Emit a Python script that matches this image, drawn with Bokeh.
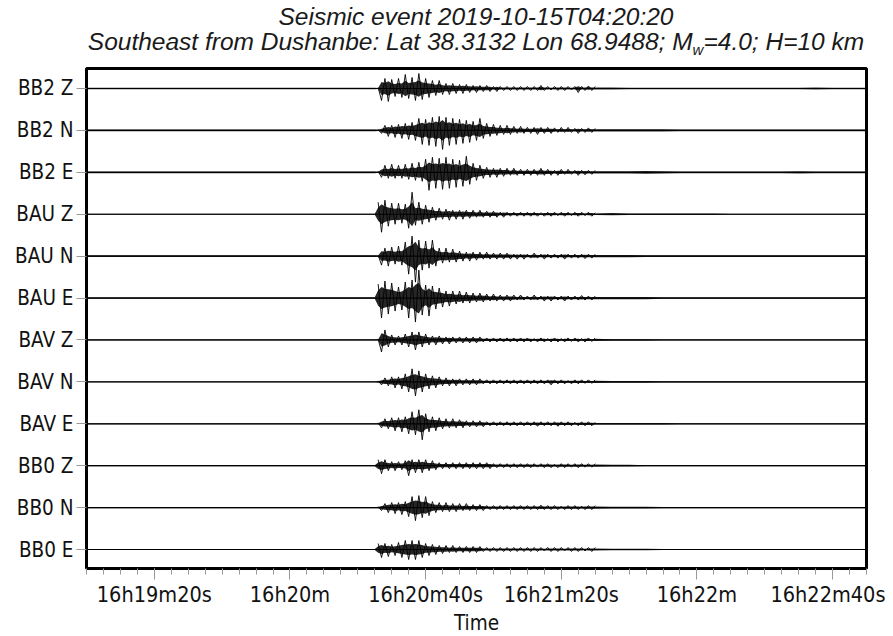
import numpy as np
from bokeh.plotting import figure
from bokeh.models import FixedTicker, Range1d, Div
from bokeh.layouts import column
from bokeh.embed import file_html
from bokeh.resources import INLINE

# ---------------- data ----------------
station_labels = ["BB2 Z", "BB2 N", "BB2 E", "BAU Z", "BAU N", "BAU E",
                  "BAV Z", "BAV N", "BAV E", "BB0 Z", "BB0 N", "BB0 E"]

title_line1 = "Seismic event 2019-10-15T04:20:20"
title_line2_a = "Southeast from Dushanbe: Lat 38.3132 Lon 68.9488; M"
title_line2_sub = "w"
title_line2_b = "=4.0; H=10 km"

# time axis: seconds after 16h19m00s
x_tick_secs = [20, 60, 100, 140, 180, 220]
x_tick_labels = ["16h19m20s", "16h20m", "16h20m40s", "16h21m20s", "16h22m", "16h22m40s"]
x_minor_secs = list(range(0, 231, 5))

t_pre = [0, 20, 40, 60, 85]           # pre-event noise knots
t_event = list(range(86, 151))        # main event knots (1 s)
t_coda = list(range(155, 231, 5))     # late coda knots (5 s)

# amplitudes (half-swing, in pixels of the original)
pre_amp = {
    "BB2 Z": [1.5, 1.5, 1.5, 1.5, 1.5], "BB2 N": [1.5, 1.5, 1.5, 1.5, 1.5],
    "BB2 E": [1.5, 1.5, 1.5, 1.5, 1.5], "BAU Z": [1, 1, 1, 1, 1],
    "BAU N": [1.5, 1.5, 1.5, 1.5, 1.5], "BAU E": [1.5, 1.5, 1.5, 1.5, 1.5],
    "BAV Z": [0.8, 0.8, 0.8, 0.8, 0.8], "BAV N": [0.5, 0.5, 0.5, 0.5, 0.5],
    "BAV E": [1, 1, 1, 1, 1], "BB0 Z": [1, 1, 1, 1, 1],
    "BB0 N": [1, 1, 1, 1, 1], "BB0 E": [1, 1, 1, 1, 1],
}

event_amp = {
    "BB2 Z": [1, 12, 10, 13, 9, 8, 10, 9, 14, 10, 11, 12, 15, 11, 10, 9, 8, 7, 8, 6,
              5, 6, 5, 5, 4, 5, 4, 4, 3, 4, 3, 3, 3, 3, 2, 3, 2, 2, 2, 2, 2, 2, 2, 2, 2,
              2, 2, 2, 3, 2, 2, 1.5, 2, 2, 2, 2, 2, 1.5, 2, 4, 2, 2, 2.5, 2, 2],
    "BB2 N": [1, 3, 5, 6, 5, 7, 6, 8, 7, 9, 8, 10, 12, 14, 11, 15, 13, 16, 14, 19,
              13, 15, 12, 14, 11, 13, 10, 12, 9, 10, 12, 8, 7, 6, 6, 5, 5, 4, 5, 4, 4, 3, 4, 3, 3,
              3, 3, 4, 3, 3, 3, 3, 2.5, 2, 3, 2, 3, 2, 2, 3, 2, 2, 2.5, 2, 2],
    "BB2 E": [1, 5, 7, 6, 8, 6, 7, 6, 8, 7, 9, 8, 10, 9, 13, 18, 15, 16, 14, 17,
              15, 16, 13, 15, 12, 14, 16, 12, 9, 8, 7, 6, 5, 5, 4, 5, 4, 4, 4, 3, 4, 3, 3, 3, 3,
              3, 3, 3, 4, 3, 3, 3, 2, 3, 3, 2, 3, 2, 2, 3, 2, 2.5, 2, 2, 2],
    "BAU Z": [12, 18, 14, 12, 11, 10, 11, 9, 10, 14, 22, 11, 12, 10, 9, 8, 7, 6, 6, 5,
              5, 6, 4, 5, 4, 5, 4, 4, 4, 3, 4, 3, 3, 3, 3, 3, 2, 3, 2, 2, 2, 2, 2, 2, 2,
              2, 2, 2, 1.5, 2, 2, 2, 2, 1.5, 2, 2, 2, 1.5, 2, 2, 2, 1.5, 2, 2, 1.5],
    "BAU N": [1, 9, 8, 10, 9, 8, 10, 9, 14, 18, 20, 26, 16, 14, 15, 12, 16, 10, 8, 7,
              8, 6, 7, 6, 5, 5, 4, 5, 4, 4, 4, 3, 4, 3, 3, 3, 3, 3, 3, 3, 2, 3, 2, 3, 2,
              2, 3, 2, 2, 3, 2, 2, 2, 2, 2, 3, 2, 2, 2, 2, 2, 2.5, 2, 2, 2],
    "BAU E": [14, 20, 17, 16, 15, 13, 11, 12, 16, 20, 18, 24, 28, 17, 13, 18, 12, 11, 10, 9,
              7, 8, 7, 6, 7, 5, 6, 5, 5, 4, 5, 4, 4, 3, 4, 3, 3, 3, 3, 3, 3, 2, 3, 2, 2,
              2, 3, 2, 2, 3, 2, 3, 2, 2, 2, 3, 2, 2, 2, 2, 2.5, 2, 2, 2, 2],
    "BAV Z": [1, 12, 10, 7, 5, 5, 4, 5, 6, 7, 8, 10, 8, 7, 6, 5, 4, 5, 4, 4,
              3, 4, 3, 3, 3, 3, 3, 3, 3, 3, 3, 2, 2, 2, 2, 2, 2, 2, 2, 2, 2, 2, 2, 2, 2,
              2, 1.5, 2, 2, 2, 1.5, 2, 2, 2, 1.5, 2, 2, 1.5, 2, 2, 1.5, 2, 2, 1.5, 2],
    "BAV N": [1, 3, 4, 4, 5, 6, 5, 7, 8, 10, 13, 14, 11, 10, 8, 7, 6, 6, 5, 4,
              4, 4, 3, 4, 3, 3, 3, 3, 3, 3, 3, 2, 2, 2, 2, 2, 2, 2, 2, 2, 2, 2, 2, 2, 2,
              2, 2, 2, 2, 2, 2, 3, 2, 2, 2, 2, 1.5, 2, 2, 2, 2, 1.5, 2, 1.5, 2],
    "BAV E": [1, 4, 5, 5, 6, 7, 6, 8, 7, 10, 12, 11, 14, 16, 10, 8, 7, 7, 6, 5,
              5, 4, 5, 4, 4, 4, 3, 3, 3, 3, 3, 3, 2, 2, 2, 2, 2, 2, 2, 2, 2, 2, 2, 2, 2,
              2, 2, 2.5, 2, 2, 2, 2, 2, 2.5, 2, 2, 2, 2, 1.5, 2, 2, 2, 2, 2, 1.5],
    "BB0 Z": [6, 8, 6, 5, 4, 5, 4, 4, 5, 10, 6, 7, 6, 7, 6, 5, 5, 4, 3, 3,
              3, 3, 3, 3, 3, 3, 3, 3, 3, 3, 3, 3, 3, 3, 2, 2, 2, 2, 2, 2, 2, 2, 2, 2, 2,
              2, 2, 1.5, 2, 2, 2, 2, 1.5, 2, 2, 2, 2, 1.5, 2, 2, 2, 1.5, 2, 1.5, 2],
    "BB0 N": [1, 3, 4, 5, 5, 6, 5, 7, 6, 9, 11, 13, 12, 10, 11, 8, 6, 5, 5, 4,
              5, 4, 4, 4, 4, 3, 4, 3, 3, 3, 3, 3, 2, 2, 2, 2, 2, 2, 2, 2, 2, 2, 2, 2, 2,
              2, 2, 2, 2.5, 2, 2, 2, 2, 2, 1.5, 2, 2, 2, 2, 2, 1.5, 2, 2, 2, 2],
    "BB0 E": [6, 8, 6, 7, 5, 6, 7, 8, 9, 10, 9, 10, 9, 8, 6, 6, 5, 5, 4, 4,
              4, 3, 4, 3, 3, 3, 3, 3, 3, 3, 3, 2, 2, 2, 2, 2, 2, 2, 2, 2, 2, 2, 2, 2, 2,
              2, 2, 2, 2, 1.5, 2, 2, 2, 2, 2, 1.5, 2, 2, 2, 2, 2, 1.5, 2, 2, 2],
}

coda_amp = {
    "BB2 Z": [2, 1.5, 1.5, 1.5, 1.5, 1.5, 1.5, 1.5, 1.5, 1.5, 1.5, 1.5, 2, 1.5, 1.5, 1.5],
    "BB2 N": [2, 2, 2, 2, 1.5, 1.5, 1.5, 1.5, 1.5, 1.5, 1.5, 1.5, 1.5, 1.5, 1.5, 1.5],
    "BB2 E": [2, 2, 2.5, 2, 1.5, 1.5, 1.5, 1.5, 1.5, 1.5, 1.5, 2, 1.5, 1.5, 1.5, 1.5],
    "BAU Z": [2, 1.5, 1.5, 1.5, 1.5, 1.5, 1.5, 1, 1, 1, 1, 1, 1, 1, 1, 1],
    "BAU N": [2, 2, 1.5, 1.5, 1.5, 1.5, 1.5, 1.5, 1.5, 1.5, 1.5, 1.5, 1.5, 1.5, 1.5, 1.5],
    "BAU E": [2, 2, 2, 1.5, 1.5, 1.5, 1.5, 1.5, 1.5, 1.5, 1.5, 1.5, 1.5, 1.5, 1.5, 1.5],
    "BAV Z": [1.5, 1.5, 1.5, 1, 1, 1, 1, 1, 1, 1, 1, 1, 1, 1, 1, 1],
    "BAV N": [1.5, 1.5, 1.5, 1, 1, 1, 1, 1, 1, 1, 1, 1, 1, 1, 1, 1],
    "BAV E": [1.5, 1.5, 1.5, 1.5, 1, 1, 1, 1, 1, 1, 1, 1, 1, 1, 1, 1],
    "BB0 Z": [1.5, 1.5, 1, 1, 1, 1, 1, 1, 1, 1, 1, 1, 1, 1, 1, 1],
    "BB0 N": [1.5, 1.5, 1.5, 1, 1, 1, 1, 1, 1, 1, 1, 1, 1, 1, 1, 1],
    "BB0 E": [1.5, 1.5, 1.5, 1, 1, 1, 1, 1, 1, 1, 1, 1, 1, 1, 1, 1],
}

# ---------------- figure ----------------
TRACE_PX = 41.9          # pixel spacing of traces in the original
BAND = 0.55              # solid core as a share of the swing
n = len(station_labels)
FONT = "DejaVu Sans Condensed"

p = figure(frame_width=780, frame_height=500,
           x_range=Range1d(0, 230), y_range=Range1d(-0.453, n - 1 + 0.477),
           output_backend="svg", toolbar_location=None,
           min_border_left=86, min_border_right=19, min_border_top=6, min_border_bottom=58)
p.xgrid.visible = False
p.ygrid.visible = False
p.outline_line_color = "black"
p.outline_line_width = 3
p.background_fill_color = "white"
p.border_fill_color = "white"

for k, name in enumerate(station_labels):
    base = n - 1 - k
    ev = np.array(event_amp[name], dtype=float)
    band_x = t_pre + t_event + t_coda
    band_a = BAND * np.concatenate([pre_amp[name], ev, coda_amp[name]]) / TRACE_PX
    p.line([0, 230], [base, base], line_color="black", line_width=1.2)
    p.varea(x=band_x, y1=base - band_a, y2=base + band_a, fill_color="black", fill_alpha=0.85)
    sign = np.where(np.arange(len(ev)) % 2 == 0, 1.0, -1.0)
    p.line(t_event, base + sign * ev / TRACE_PX, line_color="black", line_width=1, line_alpha=0.9)

# y axis
p.yaxis.ticker = FixedTicker(ticks=list(range(n)))
p.yaxis.major_label_overrides = {n - 1 - k: name for k, name in enumerate(station_labels)}
p.yaxis.axis_line_color = None
p.yaxis.minor_tick_line_color = None
p.yaxis.major_tick_line_color = "#999999"
p.yaxis.major_tick_in = 0
p.yaxis.major_tick_out = 10
p.yaxis.major_label_standoff = 3
p.yaxis.major_label_text_font = FONT
p.yaxis.major_label_text_font_size = "20.5px"
p.yaxis.major_label_text_color = "#111111"

# x axis
p.xaxis.ticker = FixedTicker(ticks=x_tick_secs, minor_ticks=x_minor_secs)
p.xaxis.major_label_overrides = dict(zip(x_tick_secs, x_tick_labels))
p.xaxis.axis_line_color = None
p.xaxis.major_tick_line_color = "#999999"
p.xaxis.minor_tick_line_color = "#999999"
p.xaxis.major_tick_in = 0
p.xaxis.minor_tick_in = 0
p.xaxis.major_tick_out = 11
p.xaxis.minor_tick_out = 6
p.xaxis.major_label_standoff = 2
p.xaxis.major_label_text_font = FONT
p.xaxis.major_label_text_font_size = "21.5px"
p.xaxis.major_label_text_color = "#111111"
p.xaxis.axis_label = "Time"
p.xaxis.axis_label_text_font = FONT
p.xaxis.axis_label_text_font_style = "normal"
p.xaxis.axis_label_text_font_size = "20.5px"
p.xaxis.axis_label_standoff = 1
p.xaxis.axis_label_text_color = "#111111"

# two-line title with subscript w, centred over the frame
title_html = (
    '<div style="width:780px;text-align:center;font-family:\'Liberation Sans\',Arial,sans-serif;'
    'font-style:italic;font-size:24.5px;line-height:25px;color:#1a1a1a;padding-top:4px;white-space:nowrap;">'
    f'{title_line1}<br>{title_line2_a}'
    f'<sub style="font-size:15px;vertical-align:baseline;position:relative;top:5px;">{title_line2_sub}</sub>'
    f'{title_line2_b}</div>'
)
title_div = Div(text=title_html, width=780, height=62, margin=(0, 0, 0, 86))

layout = column(title_div, p, spacing=0)
open("out.html", "w").write(file_html(layout, INLINE))
